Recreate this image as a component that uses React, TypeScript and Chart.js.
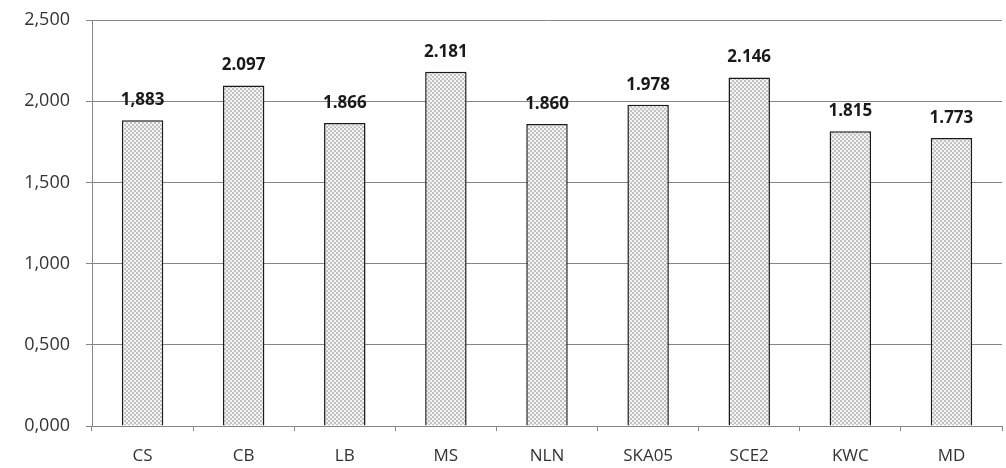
import React, { useEffect, useRef } from "react";
import { Chart, registerables } from "chart.js";

Chart.register(...registerables);

const categories = ["CS", "CB", "LB", "MS", "NLN", "SKA05", "SCE2", "KWC", "MD"];
const values = [1.883, 2.097, 1.866, 2.181, 1.86, 1.978, 2.146, 1.815, 1.773];
const valueLabels = ["1,883", "2.097", "1.866", "2.181", "1.860", "1.978", "2.146", "1.815", "1.773"];
const yTicks = [0, 0.5, 1, 1.5, 2, 2.5];

const FONT = "'Open Sans', 'Noto Sans', sans-serif";

function makePattern(): CanvasPattern | string {
  const c = document.createElement("canvas");
  c.width = 4;
  c.height = 4;
  const ctx = c.getContext("2d");
  if (!ctx) return "#d8d8d8";
  ctx.fillStyle = "#f4f4f4";
  ctx.fillRect(0, 0, 4, 4);
  ctx.fillStyle = "#c2c2c2";
  ctx.fillRect(0, 0, 2, 2);
  ctx.fillRect(2, 2, 2, 2);
  const p = ctx.createPattern(c, "repeat");
  return p || "#d8d8d8";
}

const valueLabelPlugin = {
  id: "valueLabels",
  afterDatasetsDraw(chart: any) {
    const ctx = chart.ctx;
    const meta = chart.getDatasetMeta(0);
    ctx.save();
    ctx.font = `bold 17px ${FONT}`;
    ctx.fillStyle = "#1a1a1a";
    ctx.textAlign = "center";
    ctx.textBaseline = "middle";
    meta.data.forEach((el: any, i: number) => {
      ctx.fillText(valueLabels[i], el.x, el.y - 20);
    });
    ctx.restore();
  },
};

export default function App() {
  const ref = useRef<HTMLCanvasElement | null>(null);
  useEffect(() => {
    if (!ref.current) return;
    const chart = new Chart(ref.current, {
      type: "bar",
      data: {
        labels: categories,
        datasets: [
          {
            data: values,
            backgroundColor: makePattern() as any,
            borderColor: "#1a1a1a",
            borderWidth: 1.5,
            categoryPercentage: 1,
            barPercentage: 0.41,
          },
        ],
      },
      options: {
        animation: false,
        responsive: true,
        maintainAspectRatio: false,
        layout: { padding: { top: 20, right: 4, left: 0, bottom: 0 } },
        plugins: {
          legend: { display: false },
          tooltip: { enabled: false },
        },
        scales: {
          x: {
            grid: {
              display: true,
              drawOnChartArea: false,
              drawTicks: true,
              tickLength: 5,
              color: "#868686",
              offset: true,
            },
            border: { display: true, color: "#868686", width: 1 },
            ticks: {
              color: "#333333",
              font: { family: FONT, size: 17 },
              padding: 15,
            },
            afterFit(scale: any) {
              scale.height = 42;
            },
          },
          y: {
            min: 0,
            max: 2.5,
            afterBuildTicks(scale: any) {
              scale.ticks = yTicks.map((v) => ({ value: v }));
            },
            grid: {
              color: "#868686",
              lineWidth: 1,
              drawTicks: true,
              tickLength: 6,
            },
            border: { display: true, color: "#868686", width: 1 },
            ticks: {
              color: "#333333",
              font: { family: FONT, size: 18 },
              padding: 16,
              callback: (v: any) => Number(v).toFixed(3).replace(".", ","),
            },
            afterFit(scale: any) {
              scale.width = 92;
              scale.paddingTop = 0;
              scale.paddingBottom = 0;
            },
          },
        },
      },
      plugins: [valueLabelPlugin],
    });
    return () => chart.destroy();
  }, []);
  return (
    <div style={{ position: "fixed", left: 0, top: 0, width: 1006, height: 468, background: "#ffffff" }}>
      <canvas ref={ref} />
    </div>
  );
}
